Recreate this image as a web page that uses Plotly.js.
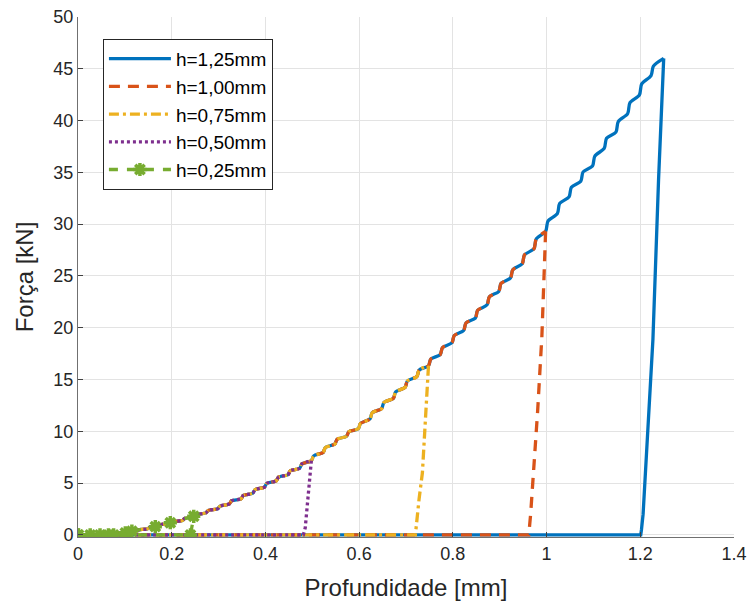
<!DOCTYPE html>
<html><head><meta charset="utf-8">
<script src="https://cdn.plot.ly/plotly-3.0.1.min.js"></script>
<style>html,body{margin:0;padding:0;background:#fff}#chart{width:748px;height:603px}</style>
</head><body><div id="chart"></div>
<script>
// Shared loading curve (depth in mm, force in kN)
const loadDepth = [0,
 0.023,0.028, 0.048,0.053, 0.073,0.078, 0.098,0.103, 0.123,0.128,
 0.148,0.153, 0.173,0.178, 0.198,0.203, 0.223,0.228, 0.248,0.253,
 0.273,0.278, 0.298,0.303, 0.323,0.328, 0.348,0.353, 0.373,0.378,
 0.398,0.403, 0.423,0.428, 0.448,0.453, 0.473,0.478, 0.498,0.503,
 0.523,0.528, 0.548,0.553, 0.573,0.578, 0.598,0.603, 0.623,0.628,
 0.648,0.653, 0.673,0.678, 0.698,0.703, 0.723,0.728, 0.748,0.753,
 0.773,0.778, 0.798,0.803, 0.823,0.828, 0.848,0.853, 0.873,0.878,
 0.898,0.903, 0.923,0.928, 0.948,0.953, 0.973,0.978, 0.998,1.003,
 1.023,1.028, 1.048,1.053, 1.073,1.078, 1.098,1.103, 1.123,1.128,
 1.148,1.153, 1.173,1.178, 1.198,1.203, 1.223,1.228, 1.250];
const loadForce = [0,
 0.00,0.02, 0.02,0.06, 0.09,0.15, 0.21,0.30, 0.36,0.48,
 0.58,0.72, 0.84,1.00, 1.11,1.29, 1.40,1.60, 1.74,1.96,
 2.13,2.37, 2.52,2.78, 3.00,3.30, 3.49,3.81, 4.03,4.37,
 4.62,4.98, 5.22,5.58, 5.81,6.19, 6.44,6.86, 7.17,7.63,
 7.96,8.44, 8.77,9.23, 9.53,9.97, 10.24,10.76, 11.20,11.80,
 12.20,12.80, 13.19,13.81, 14.24,14.86, 15.29,15.92, 16.33,16.97,
 17.41,18.09, 18.55,19.25, 19.74,20.46, 20.93,21.68, 22.21,22.99,
 23.51,24.29, 24.80,25.61, 26.17,27.04, 27.62,28.58, 29.31,30.30,
 31.01,32.00, 32.64,33.57, 34.15,35.05, 35.62,36.58, 37.31,38.30,
 38.89,39.91, 40.66,41.74, 42.46,43.54, 44.35,45.25, 46.00];

const seriesNames = ['h=1,25mm','h=1,00mm','h=0,75mm','h=0,50mm','h=0,25mm'];
const peakDepth = [1.25, 1.00, 0.75, 0.50];

// Unloading + return paths
const unloadDepth125 = [1.25, 1.239, 1.227, 1.211, 1.206, 1.2025, 1.201, 0];
const unloadForce125 = [46.0, 34.3, 18.9, 5.4, 2.0, 0.5, 0, 0];
const unloadDepth100 = [0.998, 0.990, 0.981, 0.972, 0.966, 0.962, 0];
const unloadForce100 = [29.31, 19.2, 12.0, 5.4, 2.0, 0, 0];
const unloadDepth075 = [0.748, 0.741, 0.735, 0.728, 0.723, 0.720, 0];
const unloadForce075 = [16.33, 10.2, 6.0, 3.5, 1.2, 0, 0];
const unloadDepth050 = [0.498, 0.492, 0.488, 0.485, 0.481, 0];
const unloadForce050 = [7.17, 4.4, 2.2, 0.7, 0, 0];

// h=0,25mm series (sampled at its marker points)
const depth025 = [0.001, 0.026, 0.047, 0.065, 0.076, 0.101, 0.115, 0.165, 0.197, 0.247, 0.240, 0];
const force025 = [0, 0, 0, 0, 0, 0.2, 0.37, 0.8, 1.18, 1.8, 0, 0];

const xTicks = [0, 0.2, 0.4, 0.6, 0.8, 1, 1.2, 1.4];
const yTicks = [0, 5, 10, 15, 20, 25, 30, 35, 40, 45, 50];

const colors = ['#0072BD', '#D95319', '#EDB120', '#7E2F8E', '#77AC30'];
const dashes = ['solid', '11px,8px', '10px,4px,3px,4px', '3px,3px', '9px,9px'];
const unloadD = [unloadDepth125, unloadDepth100, unloadDepth075, unloadDepth050];
const unloadF = [unloadForce125, unloadForce100, unloadForce075, unloadForce050];

const traces = [];
for (let i = 0; i < 4; i++) {
  const xs = [], ys = [];
  for (let j = 0; j < loadDepth.length; j++) {
    if (loadDepth[j] <= peakDepth[i] + 1e-6) { xs.push(loadDepth[j]); ys.push(loadForce[j]); }
  }
  traces.push({x: xs, y: ys, type: 'scatter', mode: 'lines', name: seriesNames[i],
    legendgroup: 'g' + i, line: {color: colors[i], width: 3.3, dash: dashes[i], shape: 'spline', smoothing: 0.8}});
  traces.push({x: unloadD[i], y: unloadF[i], type: 'scatter', mode: 'lines', name: seriesNames[i],
    legendgroup: 'g' + i, showlegend: false, line: {color: colors[i], width: 3.3, dash: dashes[i]}});
}
traces.push({x: depth025, y: force025, type: 'scatter', mode: 'lines+markers', name: seriesNames[4],
  line: {color: colors[4], width: 3.3, dash: dashes[4]},
  marker: {symbol: 'asterisk-open', size: 11, color: colors[4], line: {color: colors[4], width: 3.5}}});

const font = {family: 'Liberation Sans, Arial, sans-serif', color: '#262626'};
const layout = {
  width: 748, height: 603,
  margin: {l: 78, r: 14, t: 17, b: 66},
  paper_bgcolor: '#fff', plot_bgcolor: '#fff',
  font: font,
  showlegend: true,
  legend: {x: 0.038, y: 0.958, xanchor: 'left', yanchor: 'top',
    bgcolor: '#fff', bordercolor: '#262626', borderwidth: 1,
    font: {family: font.family, size: 19, color: '#000'}, itemwidth: 62, tracegroupgap: 0},
  xaxis: {range: [0, 1.4], tickvals: xTicks, ticktext: xTicks.map(String),
    showgrid: true, gridcolor: '#e3e3e3', zeroline: false,
    showline: true, linecolor: '#707070', linewidth: 1,
    ticks: 'inside', ticklen: 5, tickcolor: '#404040',
    tickfont: {family: font.family, size: 18, color: '#262626'},
    title: {text: 'Profundidade [mm]', font: {family: font.family, size: 24, color: '#262626'}, standoff: 16}},
  yaxis: {range: [-0.2, 50], tickvals: yTicks, ticktext: yTicks.map(String),
    showgrid: true, gridcolor: '#e3e3e3', zeroline: false,
    showline: true, linecolor: '#707070', linewidth: 1,
    ticks: 'inside', ticklen: 5, tickcolor: '#404040',
    tickfont: {family: font.family, size: 18, color: '#262626'},
    title: {text: 'Força [kN]', font: {family: font.family, size: 24, color: '#262626'}, standoff: 12}}
};
Plotly.newPlot('chart', traces, layout, {displayModeBar: false, staticPlot: true});
</script>
</body></html>
